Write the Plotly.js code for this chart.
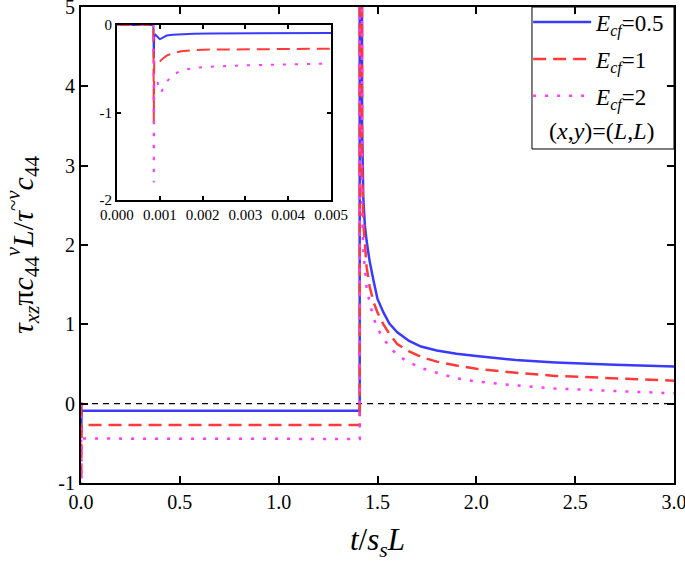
<!DOCTYPE html>
<html>
<head>
<meta charset="utf-8">
<script src="https://cdn.plot.ly/plotly-3.0.1.min.js"></script>
<style>body{margin:0;padding:0;background:#fff}#chart{width:685px;height:562px}</style>
</head>
<body>
<div id="chart"></div>
<script>
// time axis t/(s_s L)
var tVals = [0, 0.00085, 0.00086, 0.00087, 0.0009, 0.00095, 0.001, 0.00103, 0.00116, 0.0013, 0.0015, 0.0018, 0.0022, 0.003, 0.005,
  1.41, 1.4102, 1.418, 1.422, 1.428, 1.436, 1.445, 1.46, 1.48, 1.5, 1.53, 1.56, 1.6, 1.66, 1.72, 1.8, 1.9, 2.0, 2.2, 2.4, 2.7, 3.0];
// E_cf = 0.5
var ecf05 = [0, 0, -0.38, -0.13, -0.11, -0.13, -0.16, -0.155, -0.12, -0.11, -0.105, -0.10, -0.097, -0.093, -0.09,
  -0.09, 40, 5.2, 3.5, 2.6, 2.25, 2.05, 1.8, 1.55, 1.32, 1.15, 1.01, 0.9, 0.79, 0.72, 0.67, 0.63, 0.60, 0.55, 0.52, 0.49, 0.47];
// E_cf = 1
var ecf1 = [0, 0, -1.1, -0.40, -0.41, -0.42, -0.42, -0.40, -0.35, -0.32, -0.30, -0.285, -0.28, -0.275, -0.27,
  -0.27, 40, 4.2, 3.0, 2.3, 1.95, 1.72, 1.48, 1.28, 1.15, 1.0, 0.88, 0.75, 0.66, 0.59, 0.53, 0.48, 0.44, 0.39, 0.35, 0.32, 0.29];
// E_cf = 2
var ecf2 = [0, 0, -1.8, -0.63, -0.63, -0.66, -0.75, -0.77, -0.65, -0.57, -0.52, -0.49, -0.475, -0.46, -0.44,
  -0.445, 40, 3.5, 2.5, 1.95, 1.65, 1.45, 1.28, 1.08, 0.95, 0.82, 0.72, 0.61, 0.52, 0.45, 0.39, 0.32, 0.28, 0.23, 0.19, 0.16, 0.13];

var seriesNames = ['<i>E</i><sub><i>cf</i></sub>=0.5', '<i>E</i><sub><i>cf</i></sub>=1', '<i>E</i><sub><i>cf</i></sub>=2'];
var seriesData = [ecf05, ecf1, ecf2];
var seriesColors = ['#3a3aff', '#ff3a3a', '#ff3aff'];
var seriesDash = ['solid', '13px,7px', '3px,9px'];

var xTickVals = [0, 0.5, 1, 1.5, 2, 2.5, 3];
var yTickVals = [-1, 0, 1, 2, 3, 4, 5];
var yTickText = ['-1', '0', '1', '2', '3', '4', '5'];
var insetYTickVals = [-2, -1, 0];
var insetYTickText = ['-2', '-1', '0'];
var insetXTickVals = [0, 0.001, 0.002, 0.003, 0.004, 0.005];

var serif = 'Liberation Serif';
var traces = [];
for (var i = 0; i < 3; i++) {
  traces.push({x: tVals, y: seriesData[i], type: 'scatter', mode: 'lines', name: seriesNames[i],
    legendgroup: 'g' + i, line: {color: seriesColors[i], width: 2.5, dash: seriesDash[i]},
    xaxis: 'x', yaxis: 'y', hoverinfo: 'skip'});
}
for (var j = 0; j < 3; j++) {
  traces.push({x: tVals, y: seriesData[j], type: 'scatter', mode: 'lines', showlegend: false,
    line: {color: seriesColors[j], width: 2, dash: seriesDash[j]},
    xaxis: 'x2', yaxis: 'y2', hoverinfo: 'skip'});
}

var axisCommon = {showgrid: false, zeroline: false, showline: true, linecolor: '#000', linewidth: 2,
  mirror: 'ticks', ticks: 'inside', ticklen: 7, tickwidth: 2, tickcolor: '#000', ticklabeloverflow: 'allow'};

var layout = {
  width: 685, height: 562,
  margin: {l: 81, r: 11, t: 7, b: 79, autoexpand: false},
  paper_bgcolor: '#fff', plot_bgcolor: 'rgba(0,0,0,0)',
  font: {family: serif, color: '#000'},
  showlegend: true,
  legend: {x: 0.754, xanchor: 'left', y: 1.0135, yanchor: 'top', bgcolor: 'rgba(0,0,0,0)', borderwidth: 0,
    font: {family: serif, size: 23, color: '#000'}, tracegroupgap: 4, itemwidth: 58},
  xaxis: Object.assign({}, axisCommon, {domain: [0, 1], range: [0, 3], tickvals: xTickVals, tickformat: '.1f',
    tickfont: {family: serif, size: 20},
    title: {text: '<i>t</i>/<i>s</i><sub><i>s</i></sub><i>L</i>', font: {family: serif, size: 31}, standoff: 20}}),
  yaxis: Object.assign({}, axisCommon, {domain: [0, 1], range: [-1, 5], tickvals: yTickVals, ticktext: yTickText,
    tickfont: {family: serif, size: 20},
    title: {text: '<i>τ</i><sub><i>xz</i></sub>π<i>c</i><sub>44</sub><sup><i>v</i></sup><i>L</i>/<i>τ</i><sup>~<i>v</i></sup><i>c</i><sub>44</sub>',
      font: {family: serif, size: 30}, standoff: 16}}),
  xaxis2: Object.assign({}, axisCommon, {domain: [0.0607, 0.4216], anchor: 'y2', range: [0, 0.005],
    tickvals: insetXTickVals, tickformat: '.3f', ticklen: 4, tickfont: {family: serif, size: 15}}),
  yaxis2: Object.assign({}, axisCommon, {domain: [0.5945, 0.962], anchor: 'x2', range: [-2, 0],
    tickvals: insetYTickVals, ticktext: insetYTickText, ticklen: 4, tickfont: {family: serif, size: 15}}),
  shapes: [
    {type: 'line', xref: 'x domain', yref: 'y', x0: 0, x1: 1, y0: 0, y1: 0, line: {color: '#000', width: 1.2, dash: '6px,5px'}, layer: 'below'},
    {type: 'rect', xref: 'paper', yref: 'paper', x0: 0.7605, x1: 1, y0: 0.7017, y1: 1, line: {color: '#000', width: 1}, fillcolor: 'rgba(0,0,0,0)'}
  ],
  annotations: [
    {xref: 'paper', yref: 'paper', x: 0.878, y: 0.7395, xanchor: 'center', yanchor: 'middle', showarrow: false,
      text: '(<i>x</i>,<i>y</i>)=(<i>L</i>,<i>L</i>)', font: {family: serif, size: 24, color: '#000'}}
  ]
};

Plotly.newPlot('chart', traces, layout, {staticPlot: true, displayModeBar: false});
</script>
</body>
</html>
